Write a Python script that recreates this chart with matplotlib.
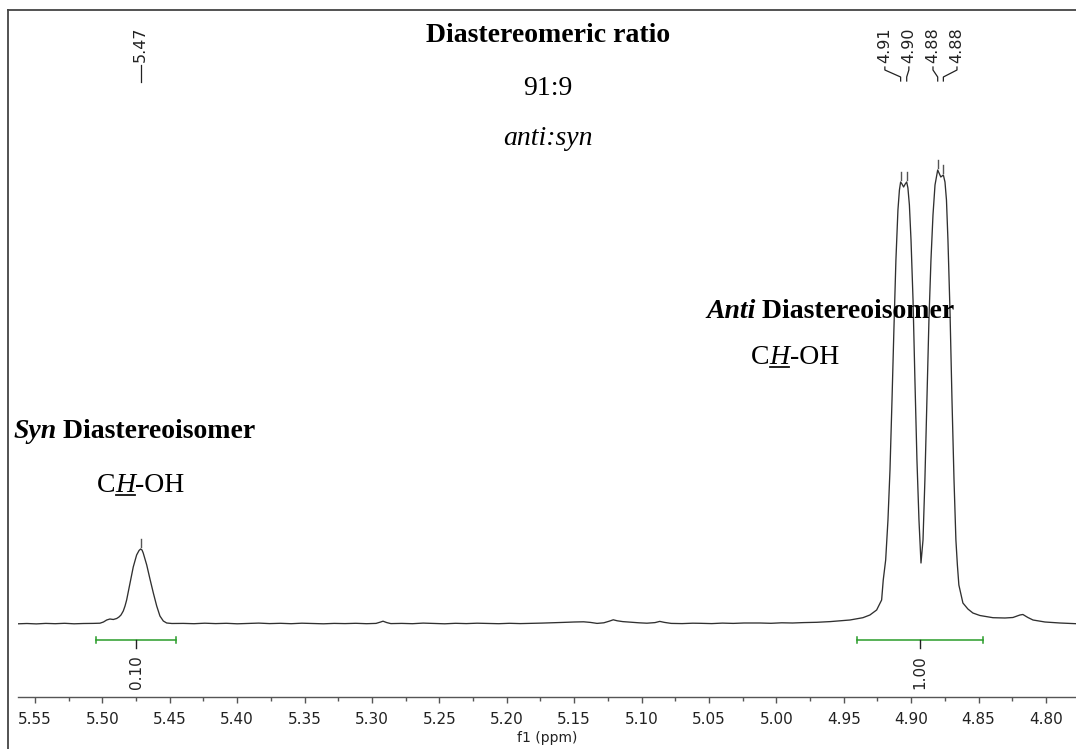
import matplotlib
matplotlib.use("Agg")
import matplotlib.pyplot as plt
from matplotlib.lines import Line2D
import numpy as np

# ---------------- data ----------------
ppm = [5.5626, 5.556, 5.549, 5.542, 5.535, 5.528, 5.521, 5.514, 5.507,
       5.5018, 5.4992, 5.4968, 5.4944, 5.4919, 5.4894, 5.4877, 5.4862, 5.4845,
       5.4832, 5.4820, 5.4795, 5.4771, 5.4746, 5.4728, 5.4716, 5.4706, 5.4697,
       5.4671, 5.4647, 5.4622, 5.4597, 5.4573, 5.4548, 5.4523, 5.4484,
       5.440, 5.432, 5.424, 5.416, 5.408, 5.400, 5.392, 5.384, 5.376, 5.368,
       5.360, 5.352, 5.344, 5.336, 5.328, 5.320, 5.312, 5.304, 5.297, 5.294,
       5.2918, 5.289, 5.286, 5.278, 5.270, 5.262, 5.254, 5.246, 5.238, 5.230,
       5.222, 5.214, 5.206, 5.198, 5.190, 5.182, 5.174, 5.166, 5.158, 5.150,
       5.143, 5.138, 5.133, 5.128, 5.124, 5.121, 5.118, 5.114, 5.108, 5.102,
       5.096, 5.090, 5.0865, 5.083, 5.078, 5.070, 5.062, 5.0567, 5.048, 5.040,
       5.032, 5.024, 5.0122, 5.004, 4.996, 4.988, 4.980, 4.9701, 4.960, 4.9454,
       4.9358, 4.9306, 4.9256, 4.9219, 4.9207, 4.9189, 4.9172, 4.9157, 4.9142,
       4.9128, 4.9113, 4.9098, 4.9087, 4.9078, 4.9068, 4.9056, 4.9044, 4.9033,
       4.9024, 4.9013, 4.9001, 4.8986, 4.8972, 4.8957, 4.8942, 4.8927, 4.8912,
       4.8898, 4.8883, 4.8868, 4.8853, 4.8838, 4.8823, 4.8803, 4.8790, 4.8780,
       4.8771, 4.8761, 4.8749, 4.8738, 4.8727, 4.8712, 4.8697, 4.8682, 4.8668,
       4.8657, 4.8646, 4.8616, 4.8579, 4.8542, 4.8490, 4.8393, 4.8304, 4.8245,
       4.8193, 4.8171, 4.8134, 4.8096, 4.8007, 4.7896, 4.7777]
intensity = [0.2, 0.5, 0.1, 0.6, 0.3, 0.7, 0.2, 0.5, 0.6,
             0.8, 2.0, 4.0, 5.0, 4.5, 5.5, 7.0, 9.0, 13.0,
             18.0, 24.0, 41.0, 57.0, 69.0, 73.5, 75.0, 74.0, 71.0,
             59.0, 45.0, 31.0, 18.0, 8.0, 3.0, 1.0, 0.5,
             0.6, 0.3, 0.8, 0.4, 0.7, 0.2, 0.6, 0.9, 0.4, 0.7,
             0.3, 0.8, 0.5, 0.2, 0.6, 0.4, 0.7, 0.3, 0.6, 1.8,
             2.8, 1.4, 0.4, 0.6, 0.3, 0.9, 0.5, 0.2, 0.7, 0.4,
             0.8, 0.5, 0.3, 0.7, 0.4, 0.6, 0.9, 1.2, 1.6, 2.0,
             2.2, 1.6, 0.6, 1.2, 2.8, 4.2, 3.2, 2.4, 1.8, 1.2,
             0.8, 1.4, 2.6, 1.6, 0.6, 0.4, 0.8, 0.7, 0.4, 0.9,
             0.6, 1.0, 1.0, 0.7, 1.2, 1.0, 1.4, 1.7, 2.4, 4.0,
             6.3, 9.0, 14.0, 24.0, 44.0, 64.0, 104.0, 154.0, 224.0,
             294.0, 364.0, 414.0, 434.0, 442.0, 440.0, 437.0, 440.0, 442.0,
             436.0, 419.0, 384.0, 324.0, 244.0, 164.0, 104.0, 61.0, 84.0,
             144.0, 224.0, 304.0, 364.0, 409.0, 439.0, 454.0, 450.0, 447.0,
             448.0, 449.0, 442.0, 424.0, 384.0, 314.0, 224.0, 144.0, 84.0,
             59.0, 39.0, 21.0, 15.0, 11.0, 8.5, 6.3, 6.0, 6.5,
             9.0, 9.5, 6.5, 4.0, 2.0, 1.0, 0.3]

# picked peaks
peak_ppm = [5.4716, 4.9078, 4.9033, 4.8803, 4.8761]
peak_height = [75.0, 442.0, 442.0, 454.0, 449.0]
single_label = "5.47"
multiplet_labels = ["4.91", "4.90", "4.88", "4.88"]

# integrals
integral_start = [5.5047, 4.9404]
integral_end = [5.4454, 4.8465]
integral_values = ["0.10", "1.00"]

x_ticks = [5.55, 5.50, 5.45, 5.40, 5.35, 5.30, 5.25, 5.20, 5.15, 5.10,
           5.05, 5.00, 4.95, 4.90, 4.85, 4.80]
x_tick_labels = ["5.55", "5.50", "5.45", "5.40", "5.35", "5.30", "5.25", "5.20",
                 "5.15", "5.10", "5.05", "5.00", "4.95", "4.90", "4.85", "4.80"]

# ---------------- figure ----------------
W, H = 1076, 749
fig = plt.figure(figsize=(W / 100, H / 100), dpi=100)


def fx(x):
    return x / W


def fy(y):
    return 1 - y / H


ax = fig.add_axes([fx(18), fy(697), fx(1076) - fx(18), fy(12) - fy(697)])
ax.set_xlim(5.5626, 4.7777)
ax.set_ylim(-73, 612)

ax.plot(ppm, intensity, color="#303030", lw=0.95, solid_joinstyle="round")

for s in ["left", "right", "top"]:
    ax.spines[s].set_visible(False)
ax.spines["bottom"].set_color("#555555")
ax.spines["bottom"].set_linewidth(1.0)
ax.set_yticks([])
ax.set_xticks(x_ticks)
ax.set_xticklabels(x_tick_labels)
ax.set_xticks(np.array(x_ticks[:-1]) - 0.025, minor=True)
ax.tick_params(axis="x", which="major", direction="out", length=4, width=1,
               color="#555555", labelsize=11, pad=7, labelcolor="#222222")
ax.tick_params(axis="x", which="minor", direction="out", length=3, width=1,
               color="#555555")
ax.set_xlabel("f1 (ppm)", fontsize=10, labelpad=3, color="#222222")

# frame around the figure
fig.add_artist(Line2D([fx(8), fx(8)], [fy(10), 0], color="#444444", lw=1.3))
fig.add_artist(Line2D([fx(8), 1], [fy(10), fy(10)], color="#444444", lw=1.3))

# peak pick marks above peaks
for p, h in zip(peak_ppm, peak_height):
    ax.plot([p, p], [h + 2, h + 10], color="#555555", lw=1.0)

# single peak label
p0 = peak_ppm[0]
ax.plot([p0, p0], [624 - 82, 624 - 65], color="#222222", lw=0.9)
ax.text(p0, 624 - 62, single_label, rotation=90, ha="center", va="bottom",
        fontsize=11.5, color="#222222")

# multiplet labels
label_x_ppm = [4.9195, 4.9017, 4.8838, 4.8660]
for lx, px_, lab in zip(label_x_ppm, peak_ppm[1:], multiplet_labels):
    ax.plot([lx, lx, px_, px_], [624 - 67, 624 - 70, 624 - 77, 624 - 81],
            color="#222222", lw=0.9)
    ax.text(lx, 624 - 63, lab, rotation=90, ha="center", va="bottom",
            fontsize=11.5, color="#222222")

# integrals
green = "#2a9d2a"
for a, b, v in zip(integral_start, integral_end, integral_values):
    ax.plot([a, b], [-16, -16], color=green, lw=1.1)
    ax.plot([a, a], [-13, -19], color=green, lw=1.1)
    ax.plot([b, b], [-13, -19], color=green, lw=1.1)
    c = (a + b) / 2
    ax.plot([c, c], [-16, -24], color="#222222", lw=1.0)
    ax.text(c, -48, v, rotation=90, ha="center", va="center", fontsize=11,
            color="#222222")

# ---------------- annotations (serif) ----------------
SERIF = "Liberation Serif"
FS = 20


def chain(pieces, x, y_base):
    """Place text pieces side by side starting at pixel (x, baseline y)."""
    texts = []
    for i, (txt, style, weight) in enumerate(pieces):
        if i == 0:
            t = fig.text(fx(x), fy(y_base), txt, family=SERIF, size=FS,
                         style=style, weight=weight, ha="left", va="baseline")
        else:
            t = ax.annotate(txt, xy=(1, 0), xycoords=texts[-1], ha="left",
                            va="bottom", family=SERIF, size=FS, style=style,
                            weight=weight, annotation_clip=False)
        texts.append(t)
    return texts


fig.text(fx(548), fy(42), "Diastereomeric ratio", family=SERIF, size=FS,
         weight="bold", ha="center", va="baseline")
fig.text(fx(548), fy(95), "91:9", family=SERIF, size=FS, ha="center",
         va="baseline")
fig.text(fx(548), fy(145), "anti:syn", family=SERIF, size=FS, style="italic",
         ha="center", va="baseline")

chain([("Syn", "italic", "bold"), (" Diastereoisomer", "normal", "bold")], 13, 438)
syn_ch = chain([("C", "normal", "normal"), ("H", "italic", "normal"),
                ("-OH", "normal", "normal")], 97, 492)

chain([("Anti", "italic", "bold"), (" Diastereoisomer", "normal", "bold")], 706, 318)
anti_ch = chain([("C", "normal", "normal"), ("H", "italic", "normal"),
                 ("-OH", "normal", "normal")], 751, 364)

fig.canvas.draw()
renderer = fig.canvas.get_renderer()
for grp, base in [(syn_ch, 492), (anti_ch, 364)]:
    bb = grp[1].get_window_extent(renderer)
    yline = fy(base + 3)
    fig.add_artist(Line2D([bb.x0 / W, bb.x1 / W - 1 / W], [yline, yline],
                          color="#111111", lw=1.3))

fig.savefig("out.png", dpi=100)
